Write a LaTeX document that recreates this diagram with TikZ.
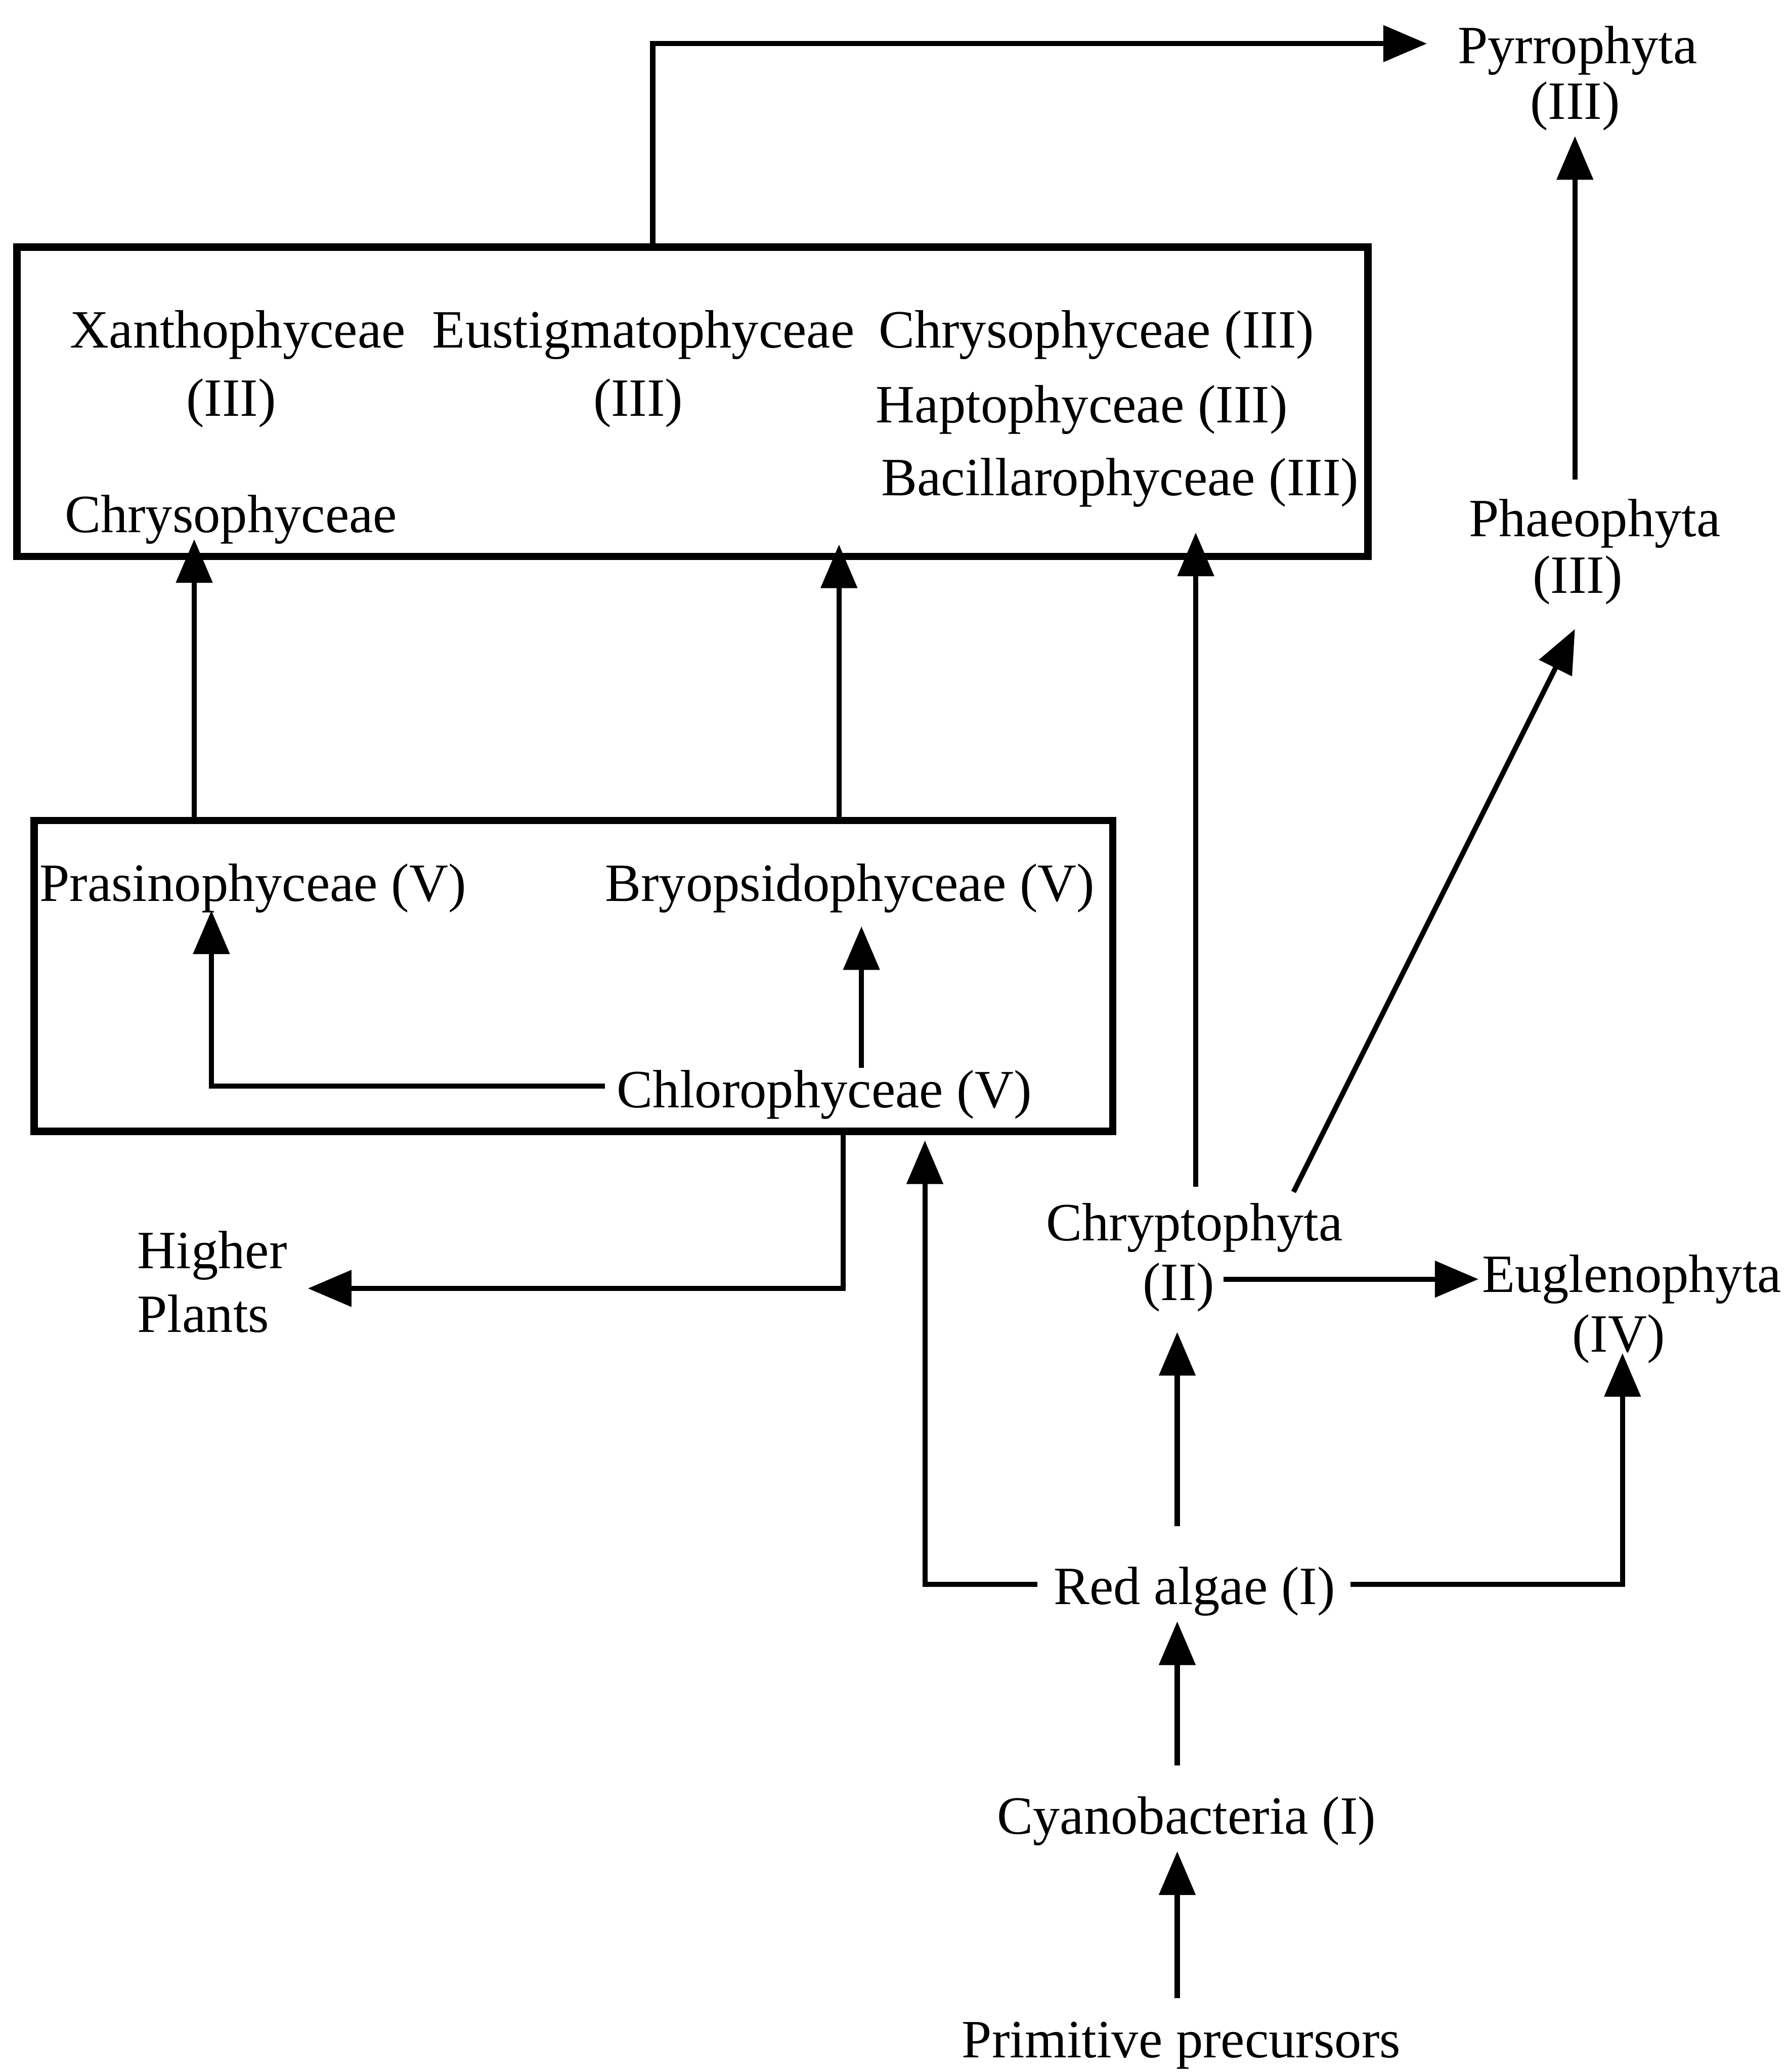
\documentclass[tikz,border=0pt]{standalone}
\usepackage{fontspec}
\setmainfont{Liberation Serif}
\usetikzlibrary{arrows.meta}
\tikzset{
  lbl/.style={inner sep=0pt, outer sep=0pt, font=\fontsize{11.6}{13}\selectfont},
  boxframe/.style={draw, line width=1.6pt, inner sep=0pt},
  conn/.style={line width=1.1pt},
  arr/.style={conn, -{Triangle[length=0.33cm, width=0.27cm]}},
}
\begin{document}
\begin{tikzpicture}[x=0.01cm, y=-0.01cm]
\useasboundingbox (0,0) rectangle (1353,1568);

% boxes
\node[boxframe, minimum width=10.22cm, minimum height=2.34cm] (topbox) at (524,304) {};
\node[boxframe, minimum width=8.16cm, minimum height=2.35cm] (greenbox) at (434,738.5) {};

% labels
\node[lbl, anchor=base] (pyr1) at (1194,48) {Pyrrophyta};
\node[lbl, anchor=base] (pyr2) at (1192,90) {(III)};
\node[lbl, anchor=base] (pha1) at (1207,406) {Phaeophyta};
\node[lbl, anchor=base] (pha2) at (1194,449) {(III)};
\node[lbl, anchor=base] (xan1) at (180,263) {Xanthophyceae};
\node[lbl, anchor=base] (xan2) at (175,315) {(III)};
\node[lbl, anchor=base] (eus1) at (487,263) {Eustigmatophyceae};
\node[lbl, anchor=base] (eus2) at (483,315) {(III)};
\node[lbl, anchor=base west] (chr) at (665,263) {Chrysophyceae (III)};
\node[lbl, anchor=base west] (hap) at (663,320) {Haptophyceae (III)};
\node[lbl, anchor=base west] (bac) at (667,375) {Bacillarophyceae (III)};
\node[lbl, anchor=base west] (chrl) at (49,403) {Chrysophyceae};
\node[lbl, anchor=base west] (pras) at (30,682) {Prasinophyceae (V)};
\node[lbl, anchor=base west] (bryo) at (458,682) {Bryopsidophyceae (V)};
\node[lbl, anchor=base west] (chlo) at (467,838) {Chlorophyceae (V)};
\node[lbl, anchor=base west] (hig1) at (104,960) {Higher};
\node[lbl, anchor=base west] (hig2) at (104,1008) {Plants};
\node[lbl, anchor=base] (cry1) at (904,939) {Chryptophyta};
\node[lbl, anchor=base] (cry2) at (892,984) {(II)};
\node[lbl, anchor=base] (eug1) at (1235,978) {Euglenophyta};
\node[lbl, anchor=base] (eug2) at (1225,1023) {(IV)};
\node[lbl, anchor=base] (red) at (904,1214) {Red algae (I)};
\node[lbl, anchor=base] (cya) at (898,1388) {Cyanobacteria (I)};
\node[lbl, anchor=base] (pri) at (894,1557) {Primitive precursors};

% connector end points
\coordinate (pyrCorner) at (494,33);
\coordinate (pyrIn) at (1080,33);
\coordinate (phaOut) at (1192,363);
\coordinate (pyrBelow) at (1192,103);
\coordinate (cryDiag) at (979,902);
\coordinate (phaBelow) at (1192,476);
\coordinate (xanIn) at (147,408);
\coordinate (eusIn) at (635,412);
\coordinate (bacIn) at (905,403);
\coordinate (cryUp) at (905,898);
\coordinate (chloLeft) at (458,822);
\coordinate (prasIn) at (160,689);
\coordinate (chloUp) at (652,808);
\coordinate (bryoIn) at (652,701);
\coordinate (gbDown) at (638,856);
\coordinate (higIn) at (233,975);
\coordinate (redLeft) at (785,1199);
\coordinate (gbIn) at (700,863);
\coordinate (redRight) at (1022,1199);
\coordinate (eugIn) at (1228,1024);
\coordinate (redUp) at (891,1155);
\coordinate (cryIn) at (891,1008);
\coordinate (cryRight) at (926,968);
\coordinate (eugLeftIn) at (1119,968);
\coordinate (cyaUp) at (891,1336);
\coordinate (redIn) at (891,1227);
\coordinate (priUp) at (891,1512);
\coordinate (cyaIn) at (891,1401);

% connectors
\draw[arr] (topbox.north -| pyrCorner) -- (pyrCorner) -- (pyrIn);
\draw[arr] (phaOut) -- (pyrBelow);
\draw[arr] (cryDiag) -- (phaBelow);
\draw[arr] (greenbox.north -| xanIn) -- (xanIn);
\draw[arr] (greenbox.north -| eusIn) -- (eusIn);
\draw[arr] (cryUp) -- (bacIn);
\draw[arr] (chloLeft) -| (prasIn);
\draw[arr] (chloUp) -- (bryoIn);
\draw[arr] (greenbox.south -| gbDown) |- (higIn);
\draw[arr] (redLeft) -| (gbIn);
\draw[arr] (redRight) -| (eugIn);
\draw[arr] (redUp) -- (cryIn);
\draw[arr] (cryRight) -- (eugLeftIn);
\draw[arr] (cyaUp) -- (redIn);
\draw[arr] (priUp) -- (cyaIn);
\end{tikzpicture}
\end{document}
